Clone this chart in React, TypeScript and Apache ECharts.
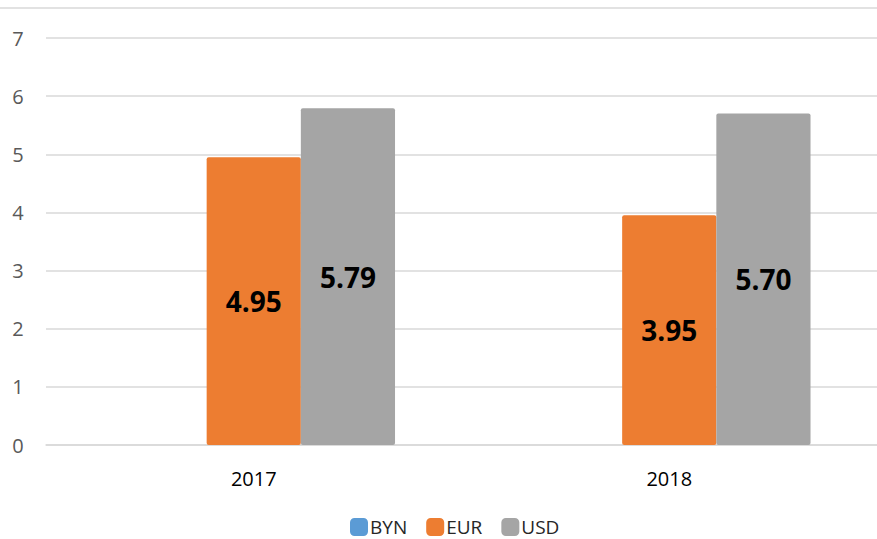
import React, { useEffect, useRef } from "react";
import * as echarts from "echarts";

const categories = ["2017", "2018"];
const seriesNames = ["BYN", "EUR", "USD"];
const bynValues: (number | null)[] = [null, null];
const eurValues = [4.95, 3.95];
const usdValues = [5.79, 5.7];
const colors = ["#5B9BD5", "#ED7D31", "#A5A5A5"];

const FONT = "'Open Sans', 'Noto Sans', sans-serif";

export default function App() {
  const ref = useRef<HTMLDivElement>(null);
  useEffect(() => {
    document.documentElement.style.overflow = "hidden";
    document.body.style.overflow = "hidden";
    document.body.style.margin = "0";
    if (!ref.current) return;
    const chart = echarts.init(ref.current, undefined, { renderer: "svg" });
    const dataSets = [bynValues, eurValues, usdValues];
    chart.setOption({
      animation: false,
      textStyle: { fontFamily: FONT },
      grid: { left: 46, right: -6, top: 38, bottom: 94, containLabel: false },
      legend: {
        bottom: 2,
        left: 350,
        padding: 0,
        itemWidth: 18,
        itemHeight: 18,
        itemGap: 19,
        icon: "roundRect",
        textStyle: { fontSize: 19, lineHeight: 20, color: "#262626", fontFamily: FONT, padding: [0, 0, 0, -3] },
        data: seriesNames,
      },
      xAxis: {
        type: "category",
        data: categories,
        axisLine: { show: true, lineStyle: { color: "#D9D9D9", width: 1.5 } },
        axisTick: { show: false },
        axisLabel: { fontSize: 20, color: "#000", margin: 23, fontFamily: FONT },
      },
      yAxis: {
        type: "value",
        min: 0,
        max: 7,
        interval: 1,
        axisLine: { show: false },
        axisTick: { show: false },
        splitLine: { lineStyle: { color: "#D9D9D9", width: 1.5 } },
        axisLabel: { fontSize: 20, color: "#595959", margin: 28, align: "center", fontFamily: FONT },
      },
      series: seriesNames.map((name, i) => ({
        name,
        type: "bar",
        data: dataSets[i],
        barGap: "0%",
        barCategoryGap: "32%",
        itemStyle: { color: colors[i], borderRadius: 2 },
        label: {
          show: i > 0,
          position: "inside",
          fontSize: 28,
          fontWeight: "bold",
          color: "#000",
          fontFamily: FONT,
          formatter: (p: any) => Number(p.value).toFixed(2),
        },
      })),
      graphic: [
        {
          type: "line",
          shape: { x1: 0, y1: 8, x2: 877, y2: 8 },
          style: { stroke: "#D9D9D9", lineWidth: 1.5 },
        },
      ],
    });
    return () => chart.dispose();
  }, []);
  return (
    <div
      ref={ref}
      style={{ position: "fixed", left: 0, top: 0, width: 877, height: 539, background: "#fff" }}
    />
  );
}
